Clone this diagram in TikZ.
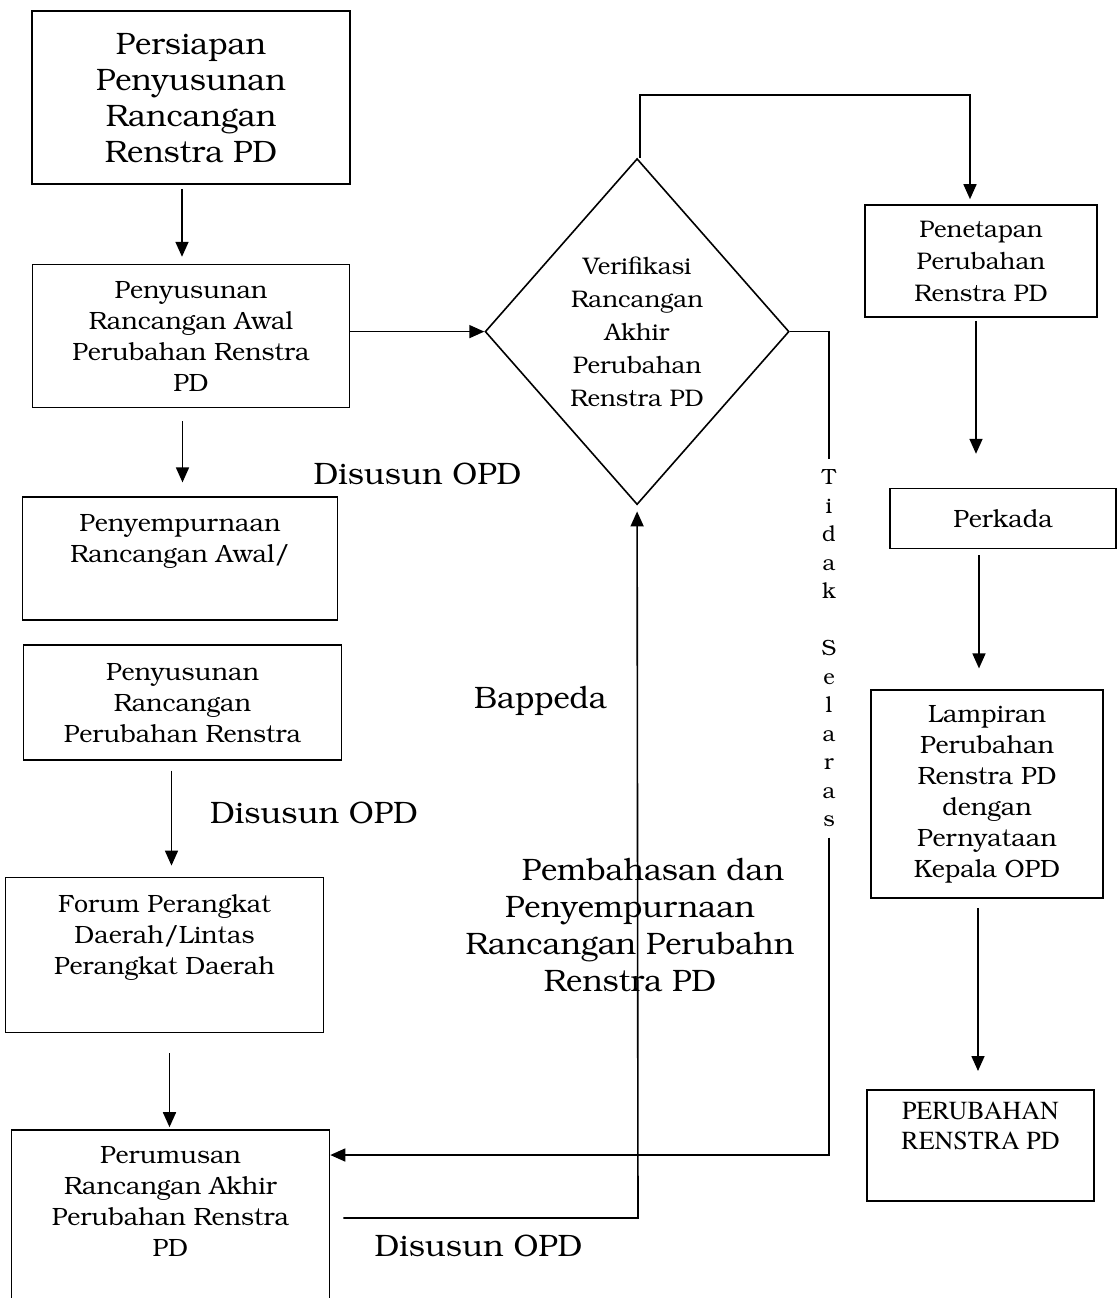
\documentclass[tikz,border=0pt]{standalone}
\usepackage[T1]{fontenc}
\usepackage{bookman}
\usepackage{tikz}
\usetikzlibrary{positioning}
\usetikzlibrary{arrows.meta}
\usetikzlibrary{shapes,calc}
\tikzset{main node/.style={rectangle,draw,align=center,inner sep=0pt,font=\fontsize{12.5}{15.5}\selectfont},}
\tikzset{big node/.style={align=center,inner sep=0pt,font=\fontsize{15.5}{18.5}\selectfont},}

\begin{document}
\begin{tikzpicture}[->,>={Triangle[length=7.5pt,width=6.5pt]},x=0.5pt,y=-0.5pt,line width=0.8pt]
    \useasboundingbox (0,0) rectangle (1118,1298);

    \node[main node,minimum width=159pt,minimum height=86.5pt,font=\fontsize{15.5}{18}\selectfont] (b1) at (191,97.5) {Persiapan\\Penyusunan\\Rancangan\\Renstra PD};
    \node[main node,minimum width=158.5pt,minimum height=71.5pt] (b2) [below=39.5pt of b1] {Penyusunan\\Rancangan Awal\\Perubahan Renstra\\PD};
    \node[main node,minimum width=157.5pt,minimum height=61.5pt] (b3) [below=44pt of b2,xshift=-5.5pt] {Penyempurnaan\\Rancangan Awal/\\\strut};
    \node[main node,minimum width=159pt,minimum height=57.5pt] (b4) [below=11.5pt of b3,xshift=1.25pt] {Penyusunan\\Rancangan\\Perubahan Renstra};
    \node[main node,minimum width=159pt,minimum height=77.5pt] (b5) [below=58pt of b4,xshift=-9pt] {Forum Perangkat\\Daerah/Lintas\\Perangkat Daerah\\\strut};
    \node[main node,minimum width=159pt,minimum height=91pt] (b6) [below=48pt of b5,xshift=3pt] {Perumusan\\Rancangan Akhir\\Perubahan Renstra\\PD\\\strut};

    \node[draw,diamond,minimum width=152pt,minimum height=173pt,inner sep=0pt,align=center,font=\fontsize{12}{16.4}\selectfont] (d) [right=67pt of b2,yshift=2.25pt] {Verifikasi\\Rancangan\\Akhir\\Perubahan\\Renstra PD};

    \node[main node,minimum width=116pt,minimum height=56pt,font=\fontsize{12}{16}\selectfont] (b7) at (981,261) {Penetapan\\Perubahan\\Renstra PD};
    \node[main node,minimum width=113pt,minimum height=30pt] (b8) [below=85pt of b7,xshift=11pt] {Perkada};
    \node[main node,minimum width=116pt,minimum height=104pt] (b9) [below=70pt of b8,xshift=-8pt] {Lampiran\\Perubahan\\Renstra PD\\dengan\\Pernyataan\\Kepala OPD};
    \node[main node,minimum width=113.5pt,minimum height=55.5pt,font=\fontfamily{ptm}\fontsize{13}{15}\selectfont] (b10) [below=95pt of b9,xshift=-3.25pt] {PERUBAHAN\\RENSTRA PD\\\strut};

    \node[big node] (opd1) at (417.5,474) {Disusun OPD};
    \node[big node] (opd2) at (314,813) {Disusun OPD};
    \node[big node] (opd3) at (478.5,1246) {Disusun OPD};
    \node[big node] (bap) at (540.5,701) {Bappeda};
    \node[big node] (bhs) at (630,925) {\hspace*{23pt}Pembahasan dan\\Penyempurnaan\\Rancangan Perubahn\\Renstra PD};
    \node[inner ysep=5pt,inner xsep=0pt,align=center,font=\fontsize{11}{14.25}\selectfont] (sel) at (829,648) {T\\i\\d\\a\\k\\\strut\\S\\e\\l\\a\\r\\a\\s};

    \draw ([xshift=-4.5pt,yshift=-2pt]b1.south) -- ([xshift=-4.5pt,yshift=3.5pt]b1.south |- b2.north);
    \draw ([xshift=-4.25pt,yshift=-6.5pt]b2.south) -- ([xshift=-4.25pt,yshift=7pt]b2.south |- b3.north);
    \draw ([xshift=-5.5pt,yshift=-5pt]b4.south) -- ([xshift=-5.5pt,yshift=5.5pt]b4.south |- b5.north);
    \draw ([xshift=2.5pt,yshift=-10pt]b5.south) -- ([xshift=2.5pt,yshift=1pt]b5.south |- b6.north);
    \draw (b2.east |- d.west) -- (d.west);

    \draw ([xshift=1.5pt]d.north) -- ++(0,-63) -| ([xshift=-5.5pt,yshift=2.5pt]b7.north);
    \draw ([xshift=-2.5pt,yshift=-1.5pt]b7.south) -- ([xshift=-2.5pt,yshift=17pt]b7.south |- b8.north);
    \draw ([xshift=-12pt,yshift=-3pt]b8.south) -- ([xshift=-12pt,yshift=10.5pt]b8.south |- b9.north);
    \draw ([xshift=-4.5pt,yshift=-4.5pt]b9.south) -- ([xshift=-4.5pt,yshift=9pt]b9.south |- b10.north);

    % nicht selaras
    \draw[-] (d.east) -- (sel.north |- d.east) -- (sel.north);
    \coordinate (ret) at (829,1155);
    \draw (sel.south) -- (ret) -- (b6.east |- ret);

    \coordinate (bp) at (638,1218);
    \draw ([xshift=6.5pt]b6.east |- bp) -- (bp) -- ([yshift=-3pt]d.south);
\end{tikzpicture}
\end{document}
